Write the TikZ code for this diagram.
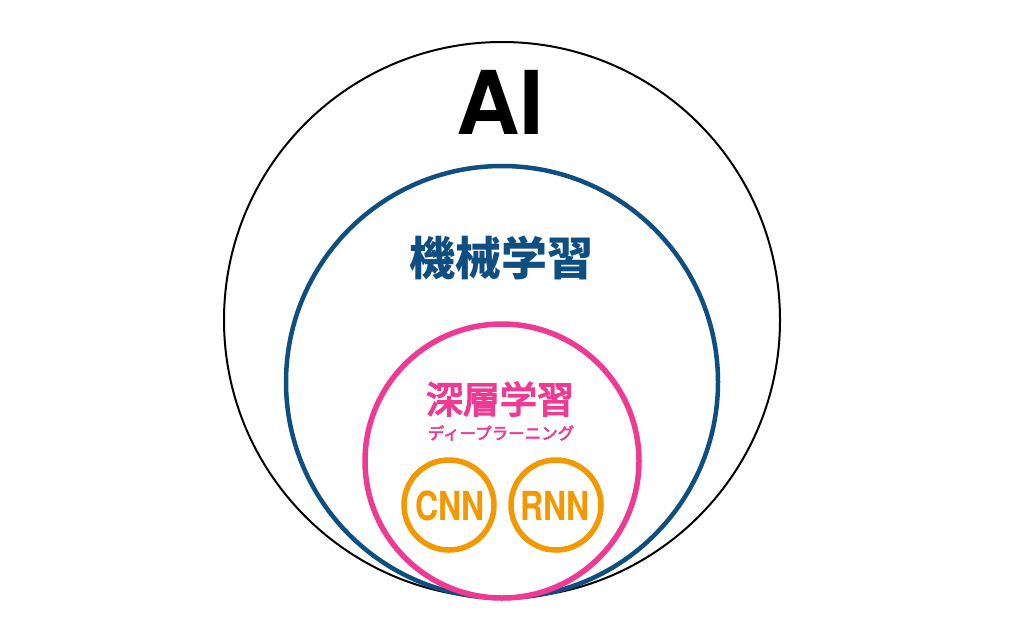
\documentclass[tikz,border=0pt]{standalone}
\usepackage{fontspec}
\setmainfont{TeX Gyre Heros}
\newfontfamily\jp{Noto Sans CJK JP}
\newfontfamily\jpmed[FakeBold=4]{Noto Sans CJK JP}
\newfontfamily\jpsmall[FakeBold=3]{Noto Sans CJK JP}
\newfontfamily\cond[FakeStretch=0.8]{TeX Gyre Heros}
\definecolor{aiblack}{HTML}{000000}
\definecolor{mlblue}{HTML}{0E4E80}
\definecolor{dlpink}{HTML}{EE3A93}
\definecolor{nnorange}{HTML}{F39800}
\begin{document}
\begin{tikzpicture}[x=1pt,y=-1pt,
  ring/.style={circle,draw,inner sep=0pt,fill=none},
  lbl/.style={inner sep=0pt,outer sep=0pt}]
\useasboundingbox (0,0) rectangle (1024,640);
\fill[white] (0,0) rectangle (1024,640);
\node[ring,draw=aiblack,line width=2pt,minimum size=556pt] (ai) at (502,320) {};
\node[ring,draw=mlblue,line width=4.5pt,minimum size=432pt] (ml) at (502,382) {};
\node[ring,draw=dlpink,line width=5.5pt,minimum size=274pt] (dl) at (502,461) {};
\node[ring,draw=nnorange,line width=5.5pt,minimum size=90pt] (cnn) at (449,505) {};
\node[ring,draw=nnorange,line width=5.5pt,minimum size=90pt] (rnn) at (556,505) {};
\node[lbl,anchor=base,font=\fontsize{88}{88}\selectfont\bfseries] (tai) at (500,134) {AI};
\node[lbl,text=mlblue,font=\jp\fontsize{46}{46}\selectfont\bfseries] (tml) at (501,258) {機械学習};
\node[lbl,text=dlpink,font=\jpmed\fontsize{37}{37}\selectfont] (tdl) at (500,399) {深層学習};
\node[lbl,text=dlpink,font=\jpsmall\fontsize{16.5}{16.5}\selectfont] (tdl2) at (501,433) {ディープラーニング};
\node[lbl,anchor=base,text=nnorange,font=\cond\fontsize{40}{40}\selectfont\bfseries] (tcnn) at (450,520) {CNN};
\node[lbl,anchor=base,text=nnorange,font=\cond\fontsize{40}{40}\selectfont\bfseries] (trnn) at (555,520) {RNN};
\end{tikzpicture}
\end{document}
